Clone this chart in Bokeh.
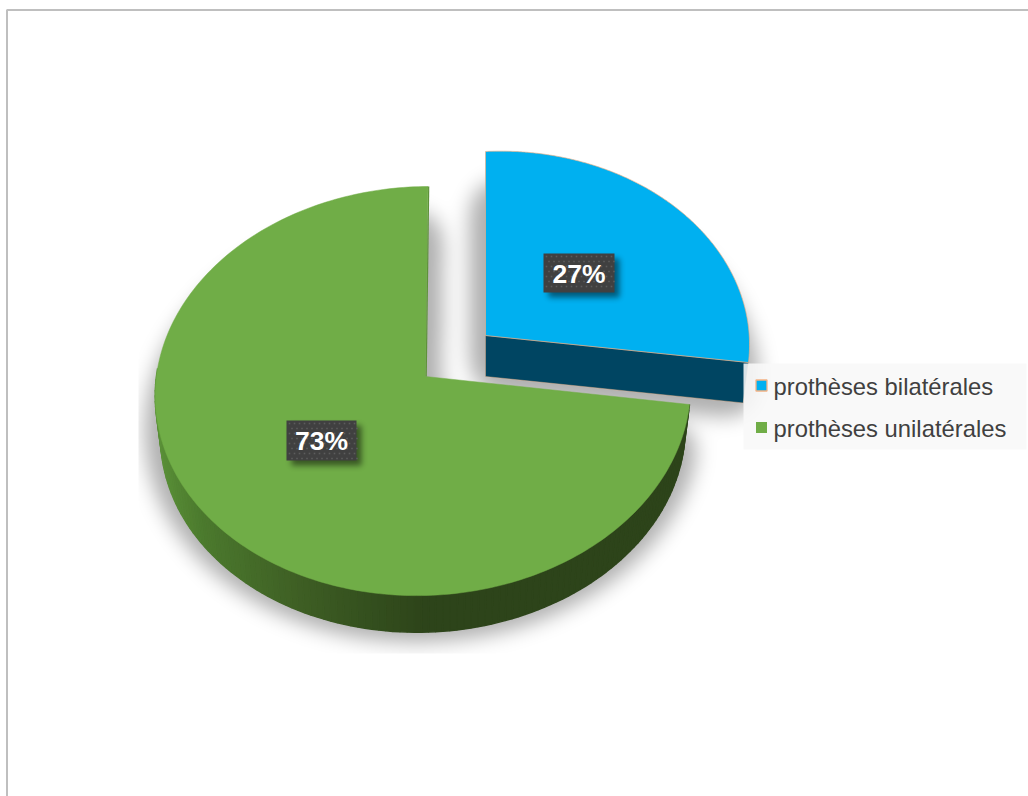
import numpy as np
from bokeh.core.properties import value
from bokeh.embed import file_html
from bokeh.models import Range1d
from bokeh.plotting import figure
from bokeh.resources import INLINE

# Chart data
categories = ["prothèses bilatérales", "prothèses unilatérales"]
shares = [27, 73]
percent_labels = ["27%", "73%"]

# Palette
BLUE, BLUE_SIDE = "#00B0F0", "#004562"
GREEN = "#70AD47"
TAN = "#F4B183"
W, H = 1028, 796


def up(y):
    """Screen-style y (down) to plot y (up)."""
    return H - np.asarray(y, dtype=float)


def homography(src, dst):
    a, b = [], []
    for (u, v), (x, y) in zip(src, dst):
        a.append([u, v, 1, 0, 0, 0, -u * x, -v * x])
        a.append([0, 0, 0, u, v, 1, -u * y, -v * y])
        b += [x, y]
    return np.append(np.linalg.solve(np.array(a, float), np.array(b, float)), 1).reshape(3, 3)


def unit(deg):
    t = np.radians(deg)
    return np.sin(t), np.cos(t)


def project(m, deg):
    u, v = unit(np.asarray(deg, dtype=float))
    w = m[2, 0] * u + m[2, 1] * v + m[2, 2]
    return (m[0, 0] * u + m[0, 1] * v + m[0, 2]) / w, (m[1, 0] * u + m[1, 1] * v + m[1, 2]) / w


sweep = 360 * shares[0] / sum(shares)

# Perspective of each exploded slice: unit-disc anchors onto the page
green_m = homography([unit(0), unit(sweep), unit(180), unit(270)],
                     [(427.5, 186), (689, 404), (425, 595), (155, 386)])
blue_m = homography([(0, 0), unit(0), unit(sweep), unit(sweep / 2)],
                    [(485, 335), (485, 151), (748, 362), (674, 206)])
green_apex = (425.0, 376.0)
blue_apex = (485.0, 335.0)
DEPTH = 41.0
SHRINK = 0.98


def lower(x, y, apex):
    """Rim of the underside of the extruded slice."""
    return (apex[0] + (np.asarray(x) - apex[0]) * SHRINK,
            apex[1] + (np.asarray(y) - apex[1]) * SHRINK + DEPTH)


def wedge(m, apex, a0, a1, n=240):
    ang = np.linspace(a0, a1, n)
    x, y = project(m, ang)
    return np.r_[apex[0], x], np.r_[apex[1], y]


blue_x, blue_y = wedge(blue_m, blue_apex, 0, sweep)
green_x, green_y = wedge(green_m, green_apex, sweep, 360)


def raster(xs, ys):
    """Even-odd fill of a closed polygon onto a page-sized mask."""
    mask = np.zeros((H, W))
    x0, y0, x1, y1 = xs, ys, np.roll(xs, -1), np.roll(ys, -1)
    for row in range(max(int(ys.min()), 0), min(int(ys.max()) + 1, H)):
        yc = row + 0.5
        hit = (y0 <= yc) != (y1 <= yc)
        cross = np.sort(x0[hit] + (yc - y0[hit]) * (x1[hit] - x0[hit]) / (y1[hit] - y0[hit]))
        for a, b in zip(cross[::2], cross[1::2]):
            mask[row, max(int(a), 0):min(int(b), W)] = 1
    return mask


yy, xx = np.mgrid[0:H, 0:W]
fx = np.fft.fftfreq(W)[None, :]
fy = np.fft.fftfreq(H)[:, None]


def gaussian(mask, sigma):
    return np.fft.ifft2(np.fft.fft2(mask) * np.exp(-2 * (np.pi * sigma) ** 2 * (fx ** 2 + fy ** 2))).real


def soft_shadow(xs, ys, apex, grow, sigma, lift=0):
    lx, ly = lower(xs, ys, apex)
    return np.clip(gaussian(gaussian(raster(lx, ly - lift), grow) > 0.1, sigma), 0, 1)


shadow_g = soft_shadow(green_x, green_y, green_apex, 12.5, 10, lift=6)
shadow_b = soft_shadow(blue_x, blue_y, blue_apex, 12.5, 10)
# The green shadow is cropped by its drawing area
shadow_g = shadow_g * (xx >= 138) * (yy <= 652)
alpha = 1 - (1 - 0.32 * shadow_g) * (1 - 0.32 * shadow_b)


def rgba_layer(a, level=0):
    out = np.zeros((H, W), dtype=np.uint32)
    view = out.view(np.uint8).reshape(H, W, 4)
    view[..., :3] = level
    view[..., 3] = np.clip(a * 255, 0, 255).astype(np.uint8)
    return out[::-1]


p = figure(width=W, height=H, x_range=Range1d(0, W), y_range=Range1d(0, H),
           output_backend="svg", toolbar_location=None, min_border=0,
           outline_line_color=None, background_fill_color="white")
p.axis.visible = False
p.grid.visible = False

# Frame of the chart area
p.line([6.5, 6.5, W], up([H, 9.5, 9.5]), line_color="#BFBFBF", line_width=2)

# Drop shadows
p.image_rgba(image=[rgba_layer(alpha)], x=0, y=0, dw=W, dh=H)

# Blue slice: extruded cut face, then the top
bx, by = project(blue_m, sweep)
lbx, lby = lower(bx, by, blue_apex)
p.patch([blue_apex[0], bx, lbx, blue_apex[0]],
        up([blue_apex[1], by, lby, blue_apex[1] + DEPTH]),
        fill_color=BLUE_SIDE, line_color=TAN, line_width=0.6, line_alpha=0.7)
p.patch(blue_x, up(blue_y), fill_color=BLUE, line_color=TAN, line_width=0.8, line_alpha=0.8)


def side_colour(x):
    stops_x = [155, 200, 300, 425, 700]
    r = np.interp(x, stops_x, [0x5A, 0x4C, 0x3E, 0x2D, 0x2D])
    g = np.interp(x, stops_x, [0x90, 0x7A, 0x5E, 0x44, 0x44])
    b = np.interp(x, stops_x, [0x38, 0x2E, 0x24, 0x1A, 0x1A])
    return "#%02x%02x%02x" % (int(r), int(g), int(b))


# Green slice: rim stripes shaded along x, then the top
rim = np.linspace(sweep, 275, 120)
rx, ry = project(green_m, rim)
lx, ly = lower(rx, ry, green_apex)
quads_x = [[rx[i], rx[i + 1], lx[i + 1], lx[i]] for i in range(len(rim) - 1)]
quads_y = [list(up([ry[i], ry[i + 1], ly[i + 1], ly[i]])) for i in range(len(rim) - 1)]
colours = [side_colour((rx[i] + rx[i + 1]) / 2) for i in range(len(rim) - 1)]
p.patches(quads_x, quads_y, fill_color=colours, line_color=colours, line_width=1.5)
p.patch(green_x, up(green_y), fill_color=GREEN, line_color=GREEN, line_width=0.5)
tx, ty = project(green_m, 360)
p.line([green_apex[0] + 0.7, tx + 0.7], up([green_apex[1], ty]), line_color="#5E9239", line_width=1.2)

# Value tags: soft shadow, plate, dot texture, text
tag_boxes = [(543, 614, 253, 292), (286, 356, 420, 460)]
tag_shadow = np.zeros((H, W))
for x0, x1, y0, y1 in tag_boxes:
    tag_shadow[y0 + 5:y1 + 5, x0 + 5:x1 + 5] = 1
p.image_rgba(image=[rgba_layer(0.5 * gaussian(tag_shadow, 3))], x=0, y=0, dw=W, dh=H)
for (x0, x1, y0, y1), text in zip(tag_boxes, percent_labels):
    p.quad(left=x0, right=x1, bottom=up(y1), top=up(y0), fill_color="#404040", line_color=None)
    gx, gy = np.meshgrid(np.arange(x0 + 3, x1 - 1, 5.0), np.arange(y0 + 3, y1 - 1, 5.0))
    gx[1::2] += 2.5
    p.scatter(gx.ravel(), up(gy.ravel()), marker="square", size=1.6, fill_color="#5C5C5C", line_color=None)
    p.text([(x0 + x1) / 2], up([(y0 + y1) / 2 + 0.5]), text=[text], text_align="center", text_baseline="middle",
           text_color="white", text_font=value("Liberation Sans"), text_font_style="bold", text_font_size="26.5px")

# Legend
p.quad(left=743, right=1026, bottom=up(449), top=up(363), fill_color="#F8F8F8", fill_alpha=0.88, line_color=None)
legend_y = [385, 427]
legend_fill = [BLUE, GREEN]
legend_line = [TAN, None]
for name, yc, fill, edge in zip(categories, legend_y, legend_fill, legend_line):
    p.quad(left=755.5, right=766.5, bottom=up(yc + 5.5), top=up(yc - 5.5), fill_color=fill,
           line_color=edge, line_width=1.3)
    p.text([773], up([yc + 0.5]), text=[name], text_align="left", text_baseline="middle", text_color="#404040",
           text_font=value("Liberation Sans"), text_font_size="23.8px")

open("out.html", "w").write(file_html(p, INLINE))
